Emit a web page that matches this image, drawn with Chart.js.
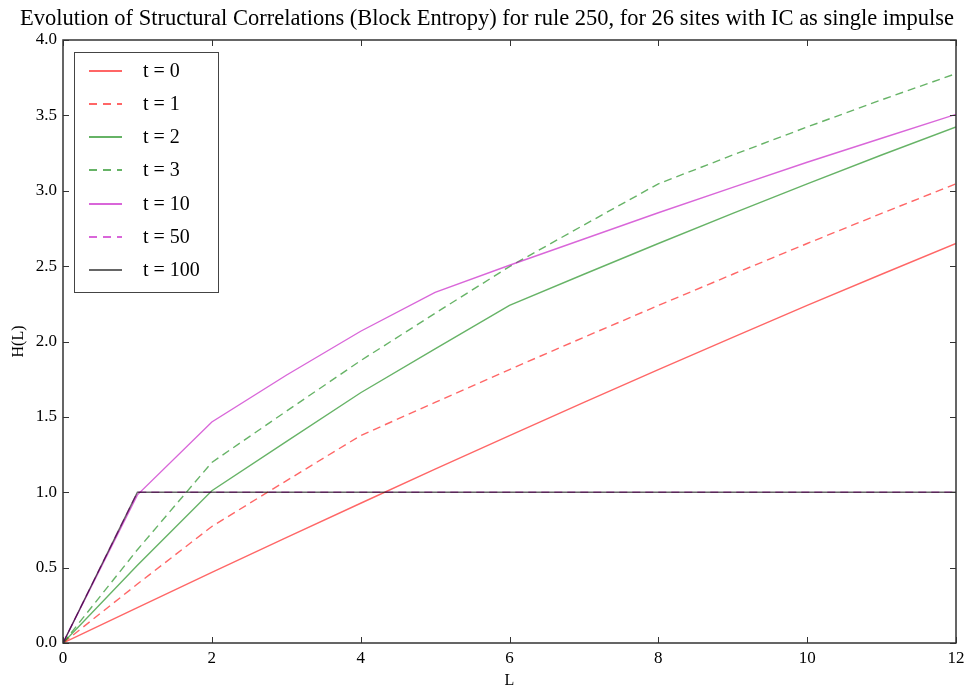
<!DOCTYPE html>
<html>
<head>
<meta charset="utf-8">
<script src="https://cdn.jsdelivr.net/npm/chart.js@4.4.1/dist/chart.umd.min.js"></script>
<style>
  html, body { margin: 0; padding: 0; background: #fff; }
  #wrap { width: 974px; height: 690px; }
</style>
</head>
<body>
<div id="wrap"><canvas id="entropyChart" width="974" height="690"></canvas></div>
<script>
// block lengths L
const blockLengths = [0, 1, 2, 3, 4, 5, 6, 7, 8, 9, 10, 11, 12];

// H(L) per time step
const hT0   = [0, 0.235, 0.468, 0.699, 0.927, 1.153, 1.376, 1.596, 1.814, 2.028, 2.239, 2.446, 2.650];
const hT1   = [0, 0.391, 0.773, 1.076, 1.376, 1.596, 1.814, 2.028, 2.239, 2.446, 2.650, 2.850, 3.046];
const hT2   = [0, 0.516, 1.010, 1.336, 1.660, 1.951, 2.239, 2.446, 2.650, 2.850, 3.046, 3.237, 3.423];
const hT3   = [0, 0.619, 1.198, 1.537, 1.873, 2.187, 2.497, 2.773, 3.046, 3.237, 3.423, 3.603, 3.777];
const hT10  = [0, 0.983, 1.466, 1.776, 2.068, 2.326, 2.506, 2.680, 2.854, 3.022, 3.189, 3.348, 3.507];
const hT50  = [0, 1, 1, 1, 1, 1, 1, 1, 1, 1, 1, 1, 1];
const hT100 = [0, 1, 1, 1, 1, 1, 1, 1, 1, 1, 1, 1, 1];

const seriesLabels = ['t = 0', 't = 1', 't = 2', 't = 3', 't = 10', 't = 50', 't = 100'];
const seriesValues = [hT0, hT1, hT2, hT3, hT10, hT50, hT100];

const xTicks = [0, 2, 4, 6, 8, 10, 12];
const yTicks = [0, 0.5, 1, 1.5, 2, 2.5, 3, 3.5, 4];

const titleText = 'Evolution of Structural Correlations (Block Entropy) for rule 250, for 26 sites with IC as single impulse';

const lineColors = [
    'rgba(255,0,0,0.6)', 'rgba(255,0,0,0.6)',
    'rgba(0,128,0,0.6)', 'rgba(0,128,0,0.6)',
    'rgba(191,0,191,0.6)', 'rgba(191,0,191,0.6)',
    'rgba(0,0,0,0.6)'
];
const dashed = [false, true, false, true, false, true, false];
const SERIF = '"Liberation Serif", "DejaVu Serif", serif';

const datasets = seriesValues.map(function (vals, i) {
    return {
        label: seriesLabels[i],
        data: vals.map(function (v, j) { return { x: blockLengths[j], y: v }; }),
        borderColor: lineColors[i],
        backgroundColor: lineColors[i],
        borderWidth: 1.4,
        borderDash: dashed[i] ? [8, 5] : [],
        pointRadius: 0,
        tension: 0,
        fill: false,
        order: seriesValues.length - i  // later series on top
    };
});

// frame, inward ticks on all four sides, title, boxed legend
const framePlugin = {
    id: 'framePlugin',
    afterDraw: function (chart) {
        const ctx = chart.ctx;
        const a = chart.chartArea;
        const xs = chart.scales.x, ys = chart.scales.y;
        const tl = 6;

        ctx.save();
        ctx.strokeStyle = '#333';
        ctx.lineWidth = 1;
        ctx.beginPath();
        xTicks.forEach(function (v) {
            const px = Math.round(xs.getPixelForValue(v)) + 0.5;
            ctx.moveTo(px, a.bottom); ctx.lineTo(px, a.bottom - tl);
            ctx.moveTo(px, a.top); ctx.lineTo(px, a.top + tl);
        });
        yTicks.forEach(function (v) {
            const py = Math.round(ys.getPixelForValue(v)) + 0.5;
            ctx.moveTo(a.left, py); ctx.lineTo(a.left + tl, py);
            ctx.moveTo(a.right, py); ctx.lineTo(a.right - tl, py);
        });
        ctx.stroke();
        ctx.lineWidth = 1.5;
        ctx.strokeRect(a.left, a.top, a.right - a.left, a.bottom - a.top);

        // title, centred on the figure
        ctx.fillStyle = '#000';
        ctx.font = '22.5px ' + SERIF;
        ctx.textAlign = 'center';
        ctx.textBaseline = 'middle';
        ctx.fillText(titleText, chart.width / 2, 19);

        // legend
        const lx = a.left + 11, ly = a.top + 12;
        const rowH = 33.2;
        const boxW = 144, boxH = 240;
        ctx.fillStyle = '#fff';
        ctx.fillRect(lx, ly, boxW, boxH);
        ctx.strokeStyle = '#444';
        ctx.lineWidth = 1;
        ctx.strokeRect(lx + 0.5, ly + 0.5, boxW, boxH);
        ctx.font = '20px ' + SERIF;
        ctx.textAlign = 'left';
        chart.data.datasets.forEach(function (ds, i) {
            const cy = Math.round(ly + 18.7 + i * rowH);
            ctx.strokeStyle = ds.borderColor;
            ctx.lineWidth = 2;
            ctx.setLineDash(ds.borderDash.length ? [8, 6] : []);
            ctx.beginPath();
            ctx.moveTo(lx + 15, cy);
            ctx.lineTo(lx + 48, cy);
            ctx.stroke();
            ctx.setLineDash([]);
            ctx.fillStyle = '#000';
            ctx.fillText(ds.label, lx + 69, cy + 1);
        });
        ctx.restore();
    }
};

new Chart(document.getElementById('entropyChart'), {
    type: 'line',
    data: { datasets: datasets },
    options: {
        responsive: false,
        animation: false,
        layout: { padding: { top: 40, right: 18, left: 0, bottom: 0 } },
        plugins: {
            legend: { display: false },
            title: { display: false },
            tooltip: { enabled: false }
        },
        scales: {
            x: {
                type: 'linear',
                min: 0, max: 12,
                afterBuildTicks: function (scale) { scale.ticks = xTicks.map(function (v) { return { value: v }; }); },
                afterFit: function (scale) { scale.height = 47; },
                grid: { display: false, drawTicks: false },
                border: { display: false },
                ticks: { padding: 5, color: '#000', font: { family: SERIF, size: 17 }, maxRotation: 0 },
                title: { display: true, text: 'L', color: '#000', padding: { top: 0, bottom: 0 }, font: { family: SERIF, size: 16 } }
            },
            y: {
                type: 'linear',
                min: 0, max: 4,
                afterBuildTicks: function (scale) { scale.ticks = yTicks.map(function (v) { return { value: v }; }); },
                afterFit: function (scale) { scale.width = 63; },
                grid: { display: false, drawTicks: false },
                border: { display: false },
                ticks: {
                    padding: 6, color: '#000', font: { family: SERIF, size: 17 },
                    callback: function (v) { return Number(v).toFixed(1); }
                },
                title: { display: true, text: 'H(L)', color: '#000', padding: { top: 9, bottom: 0 }, font: { family: SERIF, size: 16 } }
            }
        }
    },
    plugins: [framePlugin]
});
</script>
</body>
</html>
